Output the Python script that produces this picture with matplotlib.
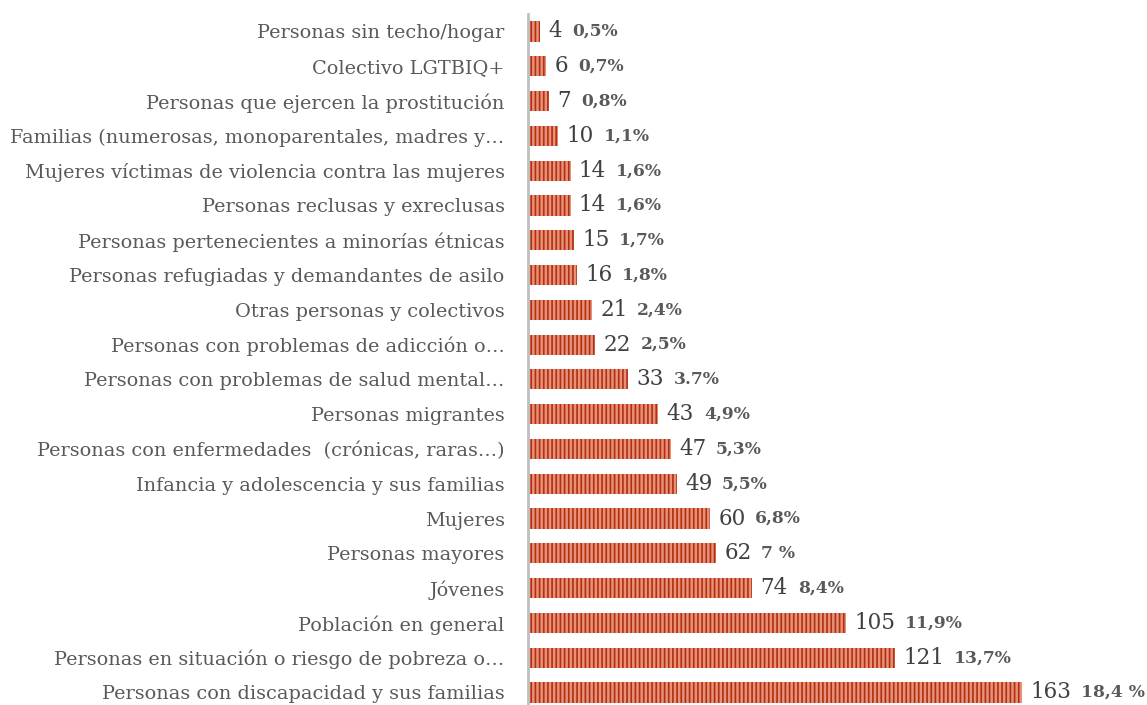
import matplotlib
matplotlib.use("Agg")
import matplotlib.pyplot as plt

# categories from top to bottom
categories = [
    "Personas sin techo/hogar",
    "Colectivo LGTBIQ+",
    "Personas que ejercen la prostitución",
    "Familias (numerosas, monoparentales, madres y…",
    "Mujeres víctimas de violencia contra las mujeres",
    "Personas reclusas y exreclusas",
    "Personas pertenecientes a minorías étnicas",
    "Personas refugiadas y demandantes de asilo",
    "Otras personas y colectivos",
    "Personas con problemas de adicción o…",
    "Personas con problemas de salud mental…",
    "Personas migrantes",
    "Personas con enfermedades  (crónicas, raras…)",
    "Infancia y adolescencia y sus familias",
    "Mujeres",
    "Personas mayores",
    "Jóvenes",
    "Población en general",
    "Personas en situación o riesgo de pobreza o…",
    "Personas con discapacidad y sus familias",
]
counts = [4, 6, 7, 10, 14, 14, 15, 16, 21, 22, 33, 43, 47, 49, 60, 62, 74, 105, 121, 163]
pct_labels = ["0,5%", "0,7%", "0,8%", "1,1%", "1,6%", "1,6%", "1,7%", "1,8%", "2,4%", "2,5%",
              "3.7%", "4,9%", "5,3%", "5,5%", "6,8%", "7 %", "8,4%", "11,9%", "13,7%", "18,4 %"]

plt.rcParams["font.family"] = ["DejaVu Serif"]
plt.rcParams["hatch.linewidth"] = 1.2

fig = plt.figure(figsize=(11.47, 7.05), dpi=100)
ax = fig.add_axes([0.4605, 0.0, 0.5395, 0.98])

ypos = list(range(len(categories)))
ax.barh(ypos, counts, height=0.58, color="#E8907A", edgecolor="#B0300E",
        hatch="||||", linewidth=0)

for y, c, p in zip(ypos, counts, pct_labels):
    t = ax.annotate(str(c), xy=(c, y), xytext=(6, 0), textcoords="offset points",
                    va="center", ha="left", fontsize=15.5, color="#404040")
    ax.annotate(p, xy=(1, 0.5), xycoords=t, xytext=(7, 0), textcoords="offset points",
                va="center", ha="left", fontsize=12.3, fontweight="bold", color="#595959")

ax.set_yticks(ypos)
ax.set_yticklabels(categories, fontsize=13.9, color="#595959")
ax.tick_params(axis="y", length=0, pad=17)
ax.set_ylim(19.36, -0.5)
ax.set_xlim(0, 204.3)
ax.set_xticks([])
for s in ["top", "right", "bottom"]:
    ax.spines[s].set_visible(False)
ax.spines["left"].set_color("#BFBFBF")
ax.spines["left"].set_linewidth(2)

fig.savefig("out.png", dpi=100)
